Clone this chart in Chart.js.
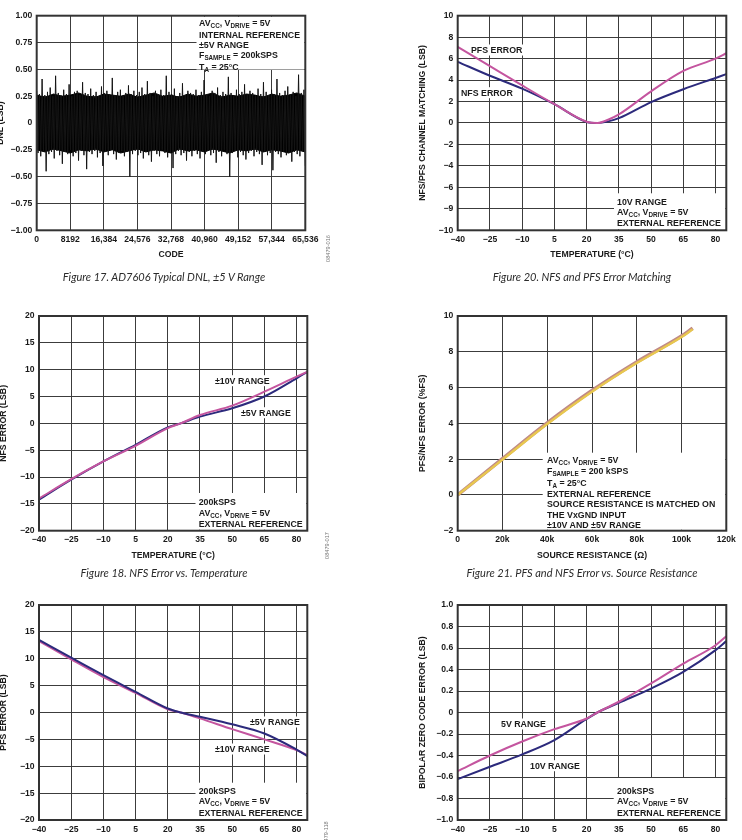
<!DOCTYPE html>
<html>
<head>
<meta charset="utf-8">
<script src="https://cdn.jsdelivr.net/npm/chart.js@4.4.1/dist/chart.umd.min.js"></script>
<style>
html, body { margin: 0; padding: 0; background: #fff; }
body { position: relative; width: 742px; height: 840px; overflow: hidden; }
canvas { position: absolute; left: 0; top: 0; }
.note { position: absolute; font: bold 8.8px "Liberation Sans", Arial, sans-serif; line-height: 10.4px; color: #1a1a1a; white-space: nowrap; }
.note .s { font-size: 6.3px; position: relative; top: 2px; }
.cap { position: absolute; width: 340px; text-align: center; font: italic 11px Lato, "Open Sans", sans-serif; color: #2a2a2a; white-space: nowrap; line-height: 12px; }
.fid { position: absolute; width: 40px; height: 7px; line-height: 7px; text-align: center; font: 5.6px "Liberation Sans", Arial, sans-serif; color: #777; transform: rotate(-90deg); }
</style>
</head>
<body>
<canvas id="c0" width="742" height="880"></canvas>
<canvas id="c1" width="742" height="880"></canvas>
<canvas id="c2" width="742" height="880"></canvas>
<canvas id="c3" width="742" height="880"></canvas>
<canvas id="c4" width="742" height="880"></canvas>
<canvas id="c5" width="742" height="880"></canvas>
<script>
// ---- data ----
// Fig 17: DNL vs code, alternating code-to-code peaks
var dnlHigh = [0.30, 0.27, 0.41, 0.26, 0.29, 0.33, 0.25, 0.44, 0.28, 0.26, 0.31, 0.27, 0.36, 0.25, 0.29, 0.30, 0.26, 0.38, 0.28, 0.27,
               0.32, 0.26, 0.29, 0.25, 0.34, 0.28, 0.30, 0.27, 0.42, 0.26, 0.29, 0.31, 0.25, 0.28, 0.35, 0.27, 0.30, 0.26, 0.29, 0.33,
               0.27, 0.39, 0.28, 0.25, 0.30, 0.27, 0.31, 0.26, 0.44, 0.29, 0.27, 0.32, 0.25, 0.28, 0.37, 0.26, 0.30, 0.28, 0.27, 0.31,
               0.26, 0.29, 0.40, 0.27, 0.25, 0.30, 0.28, 0.33, 0.26, 0.29, 0.27, 0.43, 0.28, 0.25, 0.31, 0.27, 0.29, 0.36, 0.26, 0.30,
               0.28, 0.25, 0.32, 0.27, 0.38, 0.29, 0.26, 0.31, 0.27, 0.41, 0.28, 0.26, 0.30, 0.34, 0.27, 0.29, 0.25, 0.45, 0.28, 0.31];
var dnlLow = [-0.28, -0.31, -0.26, -0.45, -0.29, -0.27, -0.33, -0.26, -0.30, -0.38, -0.27, -0.29, -0.25, -0.31, -0.28, -0.35, -0.26, -0.30, -0.43, -0.27,
              -0.29, -0.26, -0.32, -0.28, -0.40, -0.27, -0.30, -0.25, -0.29, -0.34, -0.28, -0.26, -0.31, -0.27, -0.50, -0.29, -0.26, -0.30, -0.28, -0.33,
              -0.27, -0.30, -0.36, -0.26, -0.29, -0.31, -0.25, -0.28, -0.32, -0.27, -0.42, -0.29, -0.26, -0.30, -0.28, -0.35, -0.27, -0.31, -0.26, -0.29,
              -0.33, -0.27, -0.29, -0.26, -0.30, -0.28, -0.37, -0.27, -0.31, -0.25, -0.29, -0.50, -0.28, -0.26, -0.32, -0.27, -0.30, -0.34, -0.28, -0.26,
              -0.31, -0.27, -0.29, -0.39, -0.26, -0.30, -0.28, -0.44, -0.27, -0.29, -0.32, -0.26, -0.30, -0.28, -0.36, -0.27, -0.29, -0.31, -0.26, -0.40];
// solid core of the DNL band, one value every 2048 codes
var dnlCoreTop = [0.26, 0.24, 0.27, 0.25, 0.26, 0.28, 0.25, 0.24, 0.27, 0.26, 0.25, 0.27, 0.24, 0.26, 0.28, 0.25, 0.26,
                  0.24, 0.27, 0.25, 0.26, 0.28, 0.24, 0.26, 0.25, 0.27, 0.26, 0.24, 0.27, 0.25, 0.26, 0.28, 0.25];
var dnlCoreBottom = [-0.25, -0.27, -0.24, -0.26, -0.28, -0.25, -0.26, -0.24, -0.27, -0.25, -0.28, -0.26, -0.24, -0.27, -0.25, -0.26, -0.28,
                     -0.24, -0.26, -0.25, -0.27, -0.24, -0.26, -0.28, -0.25, -0.26, -0.24, -0.27, -0.25, -0.26, -0.28, -0.25, -0.27];

// Fig 20: channel matching vs temperature
var matchTemp = [-40, -25, -10, 5, 20, 25, 30, 35, 50, 65, 80, 85];
var pfsMatch  = [7.1, 5.3, 3.5, 1.75, 0.12, 0.0, 0.3, 0.8, 2.95, 4.85, 6.0, 6.5];
var nfsMatch  = [5.7, 4.4, 3.2, 1.75, 0.1, 0.0, 0.15, 0.45, 1.95, 3.15, 4.2, 4.55];

// Fig 18: NFS error vs temperature
var nfsTemp = [-40, -25, -10, 5, 20, 26, 35, 50, 65, 80, 85];
var nfs10V  = [-14.0, -10.4, -7.1, -4.2, -0.9, 0.0, 1.55, 3.3, 5.9, 8.7, 9.6];
var nfs5V   = [-14.2, -10.5, -7.1, -4.0, -0.75, 0.0, 1.25, 2.8, 5.0, 8.4, 9.6];

// Fig 21: error vs source resistance
var resOhm = [0, 20000, 40000, 60000, 80000, 100000, 105000];
var pfsRes = [0, 2.02, 4.02, 5.83, 7.43, 8.88, 9.32];
var nfsRes = [0, 1.97, 3.96, 5.77, 7.37, 8.82, 9.26];

// PFS error vs temperature
var pfsTemp = [-40, -25, -10, 5, 20, 26, 35, 50, 65, 80, 85];
var pfs5V   = [13.5, 10.2, 6.95, 3.85, 0.75, 0.0, -0.8, -2.2, -3.9, -6.9, -8.1];
var pfs10V  = [13.3, 9.9, 6.6, 3.65, 0.6, 0.0, -1.1, -3.1, -5.0, -7.0, -7.9];

// bipolar zero code error vs temperature
var bzTemp = [-40, -25, -10, 5, 20, 25, 35, 50, 65, 80, 85];
var bz5V   = [-0.545, -0.40, -0.27, -0.155, -0.056, 0.0, 0.10, 0.27, 0.455, 0.626, 0.71];
var bz10V  = [-0.62, -0.505, -0.39, -0.257, -0.06, 0.0, 0.09, 0.223, 0.378, 0.58, 0.664];

// ticks and labels
var codeTicks = [0, 8192, 16384, 24576, 32768, 40960, 49152, 57344, 65536];
var codeLabels = ['0', '8192', '16,384', '24,576', '32,768', '40,960', '49,152', '57,344', '65,536'];
var dnlTicks = [-1, -0.75, -0.5, -0.25, 0, 0.25, 0.5, 0.75, 1];
var dnlLabels = ['\u22121.00', '\u22120.75', '\u22120.50', '\u22120.25', '0', '0.25', '0.50', '0.75', '1.00'];
var tempTicks = [-40, -25, -10, 5, 20, 35, 50, 65, 80];
var tempLabels = ['\u221240', '\u221225', '\u221210', '5', '20', '35', '50', '65', '80'];
var matchTicks = [-10, -8, -6, -4, -2, 0, 2, 4, 6, 8, 10];
var matchLabels = ['\u221210', '\u22129', '\u22126', '\u22124', '\u22122', '0', '2', '4', '6', '8', '10'];
var lsbTicks = [-20, -15, -10, -5, 0, 5, 10, 15, 20];
var lsbLabels = ['\u221220', '\u221215', '\u221210', '\u22125', '0', '5', '10', '15', '20'];
var resTicks = [0, 20000, 40000, 60000, 80000, 100000, 120000];
var resLabels = ['0', '20k', '40k', '60k', '80k', '100k', '120k'];
var pctTicks = [-2, 0, 2, 4, 6, 8, 10];
var pctLabels = ['\u22122', '0', '2', '4', '6', '8', '10'];
var bzTicks = [-1, -0.8, -0.6, -0.4, -0.2, 0, 0.2, 0.4, 0.6, 0.8, 1];
var bzLabels = ['\u22121.0', '\u22120.8', '\u22120.6', '\u22120.4', '\u22120.2', '0', '0.2', '0.4', '0.6', '0.8', '1.0'];

// ---- styling / layout ----
var FAMILY = '"Liberation Sans", Arial, sans-serif';
var MAGENTA = '#c4559f';
var NAVY = '#2c2a7c';
var GRID = '#3c3c3c';
var INK = '#1a1a1a';
var W = 742, H = 880;
var HALF = 1.2 * 8.7 / 2;

function sub(s) { return '<span class="s">' + s + '</span>'; }
var AVCC = 'AV' + sub('CC') + ', V' + sub('DRIVE') + ' = 5V';

var notes = [
    {c: 0, x: 199, y: 23.3, lines: [AVCC, 'INTERNAL REFERENCE', '\u00b15V RANGE', 'F' + sub('SAMPLE') + ' = 200kSPS', 'T' + sub('A') + ' = 25\u00b0C']},
    {c: 1, x: 617, y: 201.7, lines: ['10V RANGE', AVCC, 'EXTERNAL REFERENCE']},
    {c: 2, x: 198.7, y: 502.3, lines: ['200kSPS', AVCC, 'EXTERNAL REFERENCE']},
    {c: 3, x: 547, y: 460, lines: [AVCC, 'F' + sub('SAMPLE') + ' = 200 kSPS', 'T' + sub('A') + ' = 25\u00b0C', 'EXTERNAL REFERENCE',
                                   'SOURCE RESISTANCE IS MATCHED ON', 'THE VxGND INPUT', '\u00b110V AND \u00b15V RANGE']},
    {c: 4, x: 198.7, y: 791, lines: ['200kSPS', AVCC, 'EXTERNAL REFERENCE']},
    {c: 5, x: 617, y: 791, lines: ['200kSPS', AVCC, 'EXTERNAL REFERENCE']}
];
var tags = [
    {c: 1, x: 471, y: 50, text: 'PFS ERROR'},
    {c: 1, x: 461, y: 92.7, text: 'NFS ERROR'},
    {c: 2, x: 215, y: 380.7, text: '\u00b110V RANGE'},
    {c: 2, x: 241, y: 412.7, text: '\u00b15V RANGE'},
    {c: 4, x: 250, y: 722, text: '\u00b15V RANGE'},
    {c: 4, x: 215, y: 749, text: '\u00b110V RANGE'},
    {c: 5, x: 501, y: 724, text: '5V RANGE'},
    {c: 5, x: 530, y: 765.7, text: '10V RANGE'}
];
var masks = [
    {c: 0, x: 196.5, y: 16.7, w: 107.8, h: 52.8},
    {c: 1, x: 614, y: 193.3, w: 111.3, h: 36},
    {c: 2, x: 195.5, y: 493, w: 110.8, h: 36.7},
    {c: 3, x: 542.7, y: 452.7, w: 182.6, h: 77},
    {c: 4, x: 195.5, y: 782.7, w: 110.8, h: 36.3},
    {c: 5, x: 613.7, y: 778, w: 111.6, h: 41}
];
var captions = [
    {x: 164, y: 276.7, text: 'Figure 17. AD7606 Typical DNL, \u00b15 V Range'},
    {x: 582, y: 276.7, text: 'Figure 20. NFS and PFS Error Matching'},
    {x: 164, y: 573.3, text: 'Figure 18. NFS Error vs. Temperature'},
    {x: 582, y: 573.3, text: 'Figure 21. PFS and NFS Error vs. Source Resistance'}
];
var figIds = [
    {x: 328, y: 248, text: '08479-016'},
    {x: 327, y: 545, text: '08479-017'},
    {x: 326, y: 834, text: '08479-118'},
    {x: 744, y: 248, text: '08479-019'},
    {x: 744, y: 545, text: '08479-020'},
    {x: 744, y: 830, text: '08479-119'}
];

function pts(xs, ys) {
    return xs.map(function (x, i) { return {x: x, y: ys[i]}; });
}

function decor(idx) {
    return {
        id: 'decor',
        beforeDatasetsDraw: function (chart) {
            var ctx = chart.ctx;
            ctx.save();
            ctx.fillStyle = '#fff';
            masks.forEach(function (m) { if (m.c === idx) ctx.fillRect(m.x, m.y, m.w, m.h); });
            ctx.font = 'bold 8.8px ' + FAMILY;
            tags.forEach(function (t) {
                if (t.c !== idx) return;
                var w = ctx.measureText(t.text).width;
                ctx.fillRect(t.x - 1.5, t.y - 5.5, w + 3, 11);
            });
            ctx.restore();
        },
        afterDraw: function (chart) {
            var a = chart.chartArea, ctx = chart.ctx;
            ctx.save();
            ctx.strokeStyle = '#333';
            ctx.lineWidth = 2;
            ctx.strokeRect(a.left, a.top, a.right - a.left, a.bottom - a.top);
            ctx.restore();
        }
    };
}

function axis(spec, isX, size, titlePad) {
    return {
        type: 'linear',
        min: spec.min,
        max: spec.max,
        afterBuildTicks: function (s) { s.ticks = spec.ticks.map(function (v) { return {value: v}; }); },
        afterFit: function (s) {
            if (isX) { s.height = size; s.paddingLeft = 0; s.paddingRight = 0; }
            else { s.width = size; s.paddingTop = 0; s.paddingBottom = 0; }
        },
        ticks: {
            autoSkip: false, maxRotation: 0, minRotation: 0,
            padding: isX ? 4 : 4.5,
            color: INK,
            font: {family: FAMILY, size: 8.6, weight: 'bold'},
            callback: function (v, i) { return spec.labels[i]; }
        },
        grid: {color: GRID, lineWidth: 1, drawTicks: false},
        border: {display: false},
        title: {
            display: true, text: spec.title, color: INK,
            font: {family: FAMILY, size: 8.7, weight: 'bold'},
            padding: isX ? {top: 0, bottom: 0} : {top: titlePad, bottom: 0}
        }
    };
}

function draw_panel(idx, g, xs, ys, datasets) {
    var padLeft = Math.max(0, g.ytx - HALF);
    var yw = g.x0 - padLeft;
    var xh = g.xty - g.y1 + HALF;
    var ctx = document.getElementById('c' + idx).getContext('2d');
    return new Chart(ctx, {
        type: 'line',
        data: {datasets: datasets},
        options: {
            responsive: false,
            animation: false,
            events: [],
            layout: {padding: {left: padLeft, top: g.y0, right: W - g.x1, bottom: H - g.y1 - xh}},
            plugins: {legend: {display: false}, tooltip: {enabled: false}},
            elements: {point: {radius: 0}},
            scales: {
                x: axis(xs, true, xh),
                y: axis(ys, false, yw, g.ytx - padLeft - HALF)
            }
        },
        plugins: [decor(idx)]
    });
}

function curve(label, xs, ys, color, width) {
    return {
        label: label, data: pts(xs, ys), borderColor: color, borderWidth: width || 2,
        cubicInterpolationMode: 'monotone', fill: false, pointRadius: 0
    };
}

// Fig 17 series: successive codes alternate above/below zero
var dnlSeries = [];
dnlHigh.forEach(function (h, i) {
    var n = dnlHigh.length * 2 - 1;
    dnlSeries.push({x: (2 * i) * 65536 / n, y: h});
    dnlSeries.push({x: (2 * i + 1) * 65536 / n, y: dnlLow[i]});
});
var coreCodes = dnlCoreTop.map(function (v, i) { return i * 2048; });

draw_panel(0, {x0: 36.7, x1: 305.3, y0: 15.7, y1: 230.3, ytx: 1, xty: 255},
    {min: 0, max: 65536, ticks: codeTicks, labels: codeLabels, title: 'CODE'},
    {min: -1, max: 1, ticks: dnlTicks, labels: dnlLabels, title: 'DNL (LSB)'},
    [{label: 'DNL', data: dnlSeries, borderColor: '#151515', borderWidth: 1, tension: 0, pointRadius: 0},
     {label: 'core+', data: pts(coreCodes, dnlCoreTop), borderColor: '#000', borderWidth: 1, tension: 0,
      fill: '+1', backgroundColor: '#000', pointRadius: 0},
     {label: 'core-', data: pts(coreCodes, dnlCoreBottom), borderColor: '#000', borderWidth: 1, tension: 0, pointRadius: 0}]);

draw_panel(1, {x0: 457.7, x1: 726.3, y0: 15.7, y1: 230.3, ytx: 422.7, xty: 255},
    {min: -40, max: 85, ticks: tempTicks, labels: tempLabels, title: 'TEMPERATURE (\u00b0C)'},
    {min: -10, max: 10, ticks: matchTicks, labels: matchLabels, title: 'NFS/PFS CHANNEL MATCHING (LSB)'},
    [curve('PFS ERROR', matchTemp, pfsMatch, MAGENTA), curve('NFS ERROR', matchTemp, nfsMatch, NAVY)]);

draw_panel(2, {x0: 39, x1: 307.3, y0: 316, y1: 530.7, ytx: 3.6, xty: 555.3},
    {min: -40, max: 85, ticks: tempTicks, labels: tempLabels, title: 'TEMPERATURE (\u00b0C)'},
    {min: -20, max: 20, ticks: lsbTicks, labels: lsbLabels, title: 'NFS ERROR (LSB)'},
    [curve('\u00b110V RANGE', nfsTemp, nfs10V, MAGENTA), curve('\u00b15V RANGE', nfsTemp, nfs5V, NAVY)]);

draw_panel(3, {x0: 457.7, x1: 726.3, y0: 316, y1: 530.7, ytx: 422.7, xty: 555.3},
    {min: 0, max: 120000, ticks: resTicks, labels: resLabels, title: 'SOURCE RESISTANCE (\u03a9)'},
    {min: -2, max: 10, ticks: pctTicks, labels: pctLabels, title: 'PFS/NFS ERROR (%FS)'},
    [curve('NFS', resOhm, nfsRes, '#e8c74f', 2.4), curve('PFS', resOhm, pfsRes, '#c08a86', 3.6)]);

draw_panel(4, {x0: 39, x1: 307.3, y0: 605, y1: 820, ytx: 3.6, xty: 844.6},
    {min: -40, max: 85, ticks: tempTicks, labels: tempLabels, title: 'TEMPERATURE (\u00b0C)'},
    {min: -20, max: 20, ticks: lsbTicks, labels: lsbLabels, title: 'PFS ERROR (LSB)'},
    [curve('\u00b15V RANGE', pfsTemp, pfs5V, NAVY), curve('\u00b110V RANGE', pfsTemp, pfs10V, MAGENTA)]);

draw_panel(5, {x0: 457.7, x1: 726.3, y0: 605, y1: 820, ytx: 422.7, xty: 844.6},
    {min: -40, max: 85, ticks: tempTicks, labels: tempLabels, title: 'TEMPERATURE (\u00b0C)'},
    {min: -1, max: 1, ticks: bzTicks, labels: bzLabels, title: 'BIPOLAR ZERO CODE ERROR (LSB)'},
    [curve('5V RANGE', bzTemp, bz5V, MAGENTA), curve('10V RANGE', bzTemp, bz10V, NAVY)]);

// ---- text overlays ----
function addDiv(cls, html, css) {
    var d = document.createElement('div');
    d.className = cls;
    d.innerHTML = html;
    for (var k in css) d.style[k] = css[k];
    document.body.appendChild(d);
    return d;
}
notes.forEach(function (n) {
    addDiv('note', n.lines.join('<br>'), {left: n.x + 'px', top: (n.y - 5.2) + 'px'});
});
tags.forEach(function (t) {
    addDiv('note', t.text, {left: t.x + 'px', top: (t.y - 5.2) + 'px'});
});
captions.forEach(function (c) {
    addDiv('cap', c.text, {left: (c.x - 170) + 'px', top: (c.y - 6) + 'px'});
});
figIds.forEach(function (f) {
    addDiv('fid', f.text, {left: (f.x - 20) + 'px', top: (f.y - 3.5) + 'px'});
});
</script>
</body>
</html>
